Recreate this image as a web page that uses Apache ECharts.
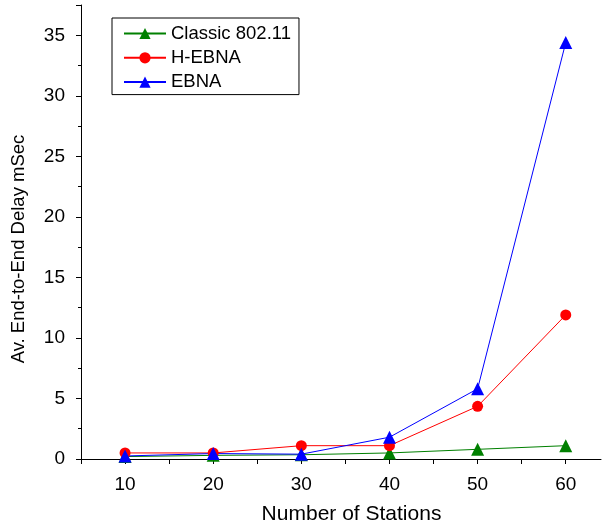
<!DOCTYPE html>
<html>
<head>
<meta charset="utf-8">
<script src="https://cdn.jsdelivr.net/npm/echarts@6/dist/echarts.min.js"></script>
<style>
html,body{margin:0;padding:0;background:#fff;}
#chart{width:605px;height:525px;}
</style>
</head>
<body>
<div id="chart"></div>
<script>
const stations = [10, 20, 30, 40, 50, 60];
const classic = [0.2, 0.3, 0.35, 0.5, 0.8, 1.1];
const hebna = [0.5, 0.5, 1.1, 1.1, 4.35, 11.9];
const ebna = [0.25, 0.45, 0.4, 1.8, 5.8, 34.4];
const xTickLabels = [10, 20, 30, 40, 50, 60];
const xTicks = [5, 10, 15, 20, 25, 30, 35, 40, 45, 50, 55, 60];
const yTickLabels = [0, 5, 10, 15, 20, 25, 30, 35];

const FONT = '"Liberation Sans", Arial, sans-serif';
const pair = (xs, ys) => xs.map((x, i) => [x, ys[i]]);

const chart = echarts.init(document.getElementById('chart'), null, {renderer: 'canvas'});
chart.setOption({
  animation: false,
  backgroundColor: '#fff',
  textStyle: {fontFamily: FONT},
  grid: {left: 81, right: 4, top: 5, bottom: 66, containLabel: false, outerBoundsMode: 'none'},
  legend: {
    orient: 'vertical',
    left: 112, top: 18,
    width: 186,
    padding: [6, 8, 3, 11],
    borderColor: '#000', borderWidth: 1, borderRadius: 0,
    itemWidth: 42, itemHeight: 14, itemGap: 5.3,
    textStyle: {fontFamily: FONT, fontSize: 18.5, color: '#000', lineHeight: 18},
    data: ['Classic 802.11', 'H-EBNA', 'EBNA']
  },
  xAxis: {
    type: 'value', min: 5, max: 64, interval: 5,
    name: 'Number of Stations', nameLocation: 'middle', nameGap: 45, nameMoveOverlap: false,
    nameTextStyle: {fontFamily: FONT, fontSize: 21, color: '#000', padding: [0, 0, 0, 21]},
    axisLine: {lineStyle: {color: '#000', width: 1}},
    axisTick: {show: true, inside: false, length: 5, customValues: xTicks, lineStyle: {color: '#000'}},
    axisLabel: {fontFamily: FONT, fontSize: 19, color: '#000', margin: 16, customValues: xTickLabels},
    splitLine: {show: false}
  },
  yAxis: {
    type: 'value', min: 0, max: 37.5, interval: 5,
    name: 'Av. End-to-End Delay mSec', nameLocation: 'middle', nameGap: 53, nameMoveOverlap: false,
    nameTextStyle: {fontFamily: FONT, fontSize: 18.5, color: '#000', padding: [0, 34, 0, 0]},
    axisLine: {show: true, lineStyle: {color: '#000', width: 1}},
    axisTick: {show: true, inside: false, length: 5, lineStyle: {color: '#000'}},
    minorTick: {show: true, splitNumber: 2, length: 3, lineStyle: {color: '#000'}},
    axisLabel: {fontFamily: FONT, fontSize: 19, color: '#000', margin: 16, customValues: yTickLabels},
    splitLine: {show: false}
  },
  series: [
    {name: 'Classic 802.11', type: 'line', data: pair(stations, classic), symbol: 'triangle', symbolSize: 13,
     itemStyle: {color: '#008000'}, lineStyle: {color: '#008000', width: 1}},
    {name: 'H-EBNA', type: 'line', data: pair(stations, hebna), symbol: 'circle', symbolSize: 11,
     itemStyle: {color: '#ff0000'}, lineStyle: {color: '#ff0000', width: 1}},
    {name: 'EBNA', type: 'line', data: pair(stations, ebna), symbol: 'triangle', symbolSize: 13,
     itemStyle: {color: '#0000ff'}, lineStyle: {color: '#0000ff', width: 1}}
  ]
});
</script>
</body>
</html>
